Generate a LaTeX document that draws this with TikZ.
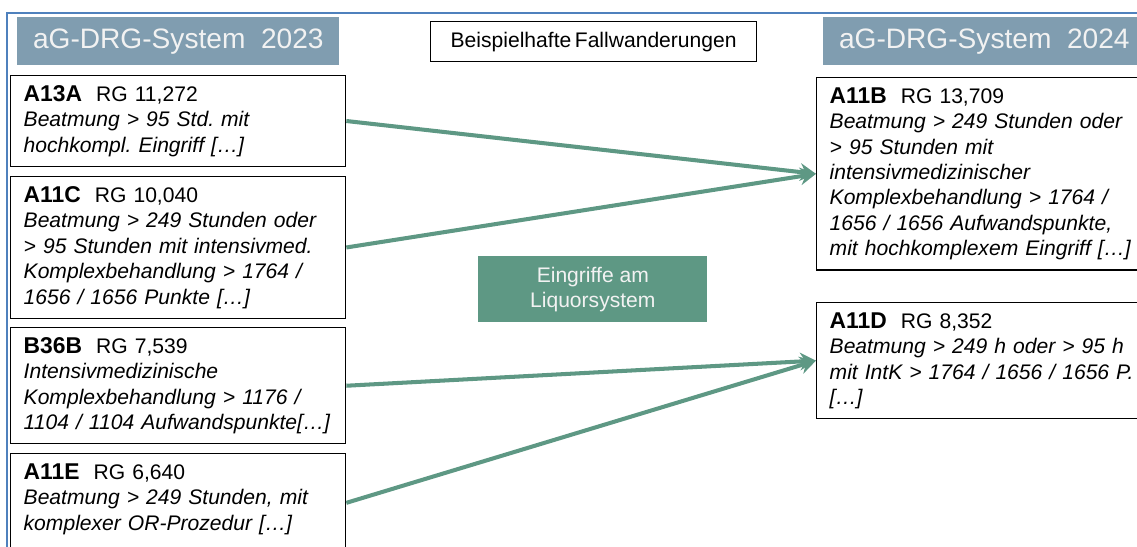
\documentclass[tikz,border=0pt]{standalone}
\usepackage{fontspec}
\setmainfont{Liberation Sans}
\usetikzlibrary{arrows.meta}
\frenchspacing

\definecolor{headblue}{RGB}{128,157,176}
\definecolor{frameblue}{RGB}{79,129,189}
\definecolor{shiftgreen}{RGB}{94,152,132}

\newcommand{\drgcode}[2]{{\fontsize{13}{14.5}\selectfont\bfseries #1}\hspace{8pt}#2}

\begin{document}
\begin{tikzpicture}
		[x=0.02cm, y=-0.02cm,
		head node/.style={fill=headblue, text=white!95!black, anchor=north west, inner sep=0pt,
			minimum width=6.44cm, minimum height=0.96cm, font=\fontsize{16}{19}\selectfont},
		case node/.style={draw, line width=0.8pt, anchor=north west, align=left, text width=6.18cm,
			inner xsep=7.4pt, inner ysep=5.5pt, font=\fontsize{12}{14.5}\selectfont},
		shift arrow/.style={draw=shiftgreen, line width=2.3pt, -{Stealth[length=9pt, width=10pt, inset=3pt]}}]
			\useasboundingbox (0,0) rectangle (1137,547);
			\clip (0,0) rectangle (1137,547);
			\draw[frameblue, line width=1.2pt] (7,560) -- (7,13) -- (1150,13);

			\node[head node] (head2023) at (17,17) {aG-DRG-System\ \ 2023};
			\node[head node] (head2024) at (823,17) {aG-DRG-System\ \ 2024};
			\node[draw, line width=0.8pt, anchor=north west, minimum width=6.52cm, minimum height=0.8cm,
				inner sep=0pt, font=\fontsize{12}{14.5}\selectfont] (title) at (430,21) {Beispielhafte\,Fallwanderungen};

			% 2023
			\node[case node] (a13a) at (10,75) {\drgcode{A13A}{RG 11,272}\\
				\itshape Beatmung > 95 Std. mit\\ hochkompl. Eingriff […]};
			\node[case node] (a11c) at (10,176) {\drgcode{A11C}{RG 10,040}\\
				\itshape Beatmung > 249 Stunden oder\\ > 95 Stunden mit intensivmed.\\
				Komplexbehandlung > 1764 /\\ 1656 / 1656 Punkte […]};
			\node[case node] (b36b) at (10,327) {\drgcode{B36B}{RG 7,539}\\
				\itshape Intensivmedizinische\\ Komplexbehandlung > 1176 /\\ 1104 / 1104 Aufwandspunkte[…]};
			\node[case node] (a11e) at (10,453) {\drgcode{A11E}{RG 6,640}\\
				\itshape Beatmung > 249 Stunden, mit\\ komplexer OR-Prozedur […]\rule[-7pt]{0pt}{1pt}};

			% 2024
			\node[case node] (a11b) at (816,77) {\drgcode{A11B}{RG 13,709}\\
				\itshape Beatmung > 249 Stunden oder\\ > 95 Stunden mit\\ intensivmedizinischer\\
				Komplexbehandlung > 1764 /\\ 1656 / 1656 Aufwandspunkte,\\ mit hochkomplexem Eingriff […]};
			\node[case node] (a11d) at (816,302) {\drgcode{A11D}{RG 8,352}\\
				\itshape Beatmung > 249 h oder > 95 h\\ mit IntK > 1764 / 1656 / 1656 P.\\ {[…]}};

			\node[fill=shiftgreen, text=white!95!black, anchor=north west, minimum width=4.58cm,
				minimum height=1.32cm, inner sep=0pt, align=center,
				font=\fontsize{12}{14.5}\selectfont] (liquor) at (478,256) {Eingriffe am\\ Liquorsystem};

			\path[shift arrow] (a13a.east) -- (a11b.west);
			\path[shift arrow] (a11c.east) -- (a11b.west);
			\path[shift arrow] (b36b.east) -- (a11d.west);
			\path[shift arrow] (a11e.east) -- (a11d.west);
		\end{tikzpicture}
\end{document}
